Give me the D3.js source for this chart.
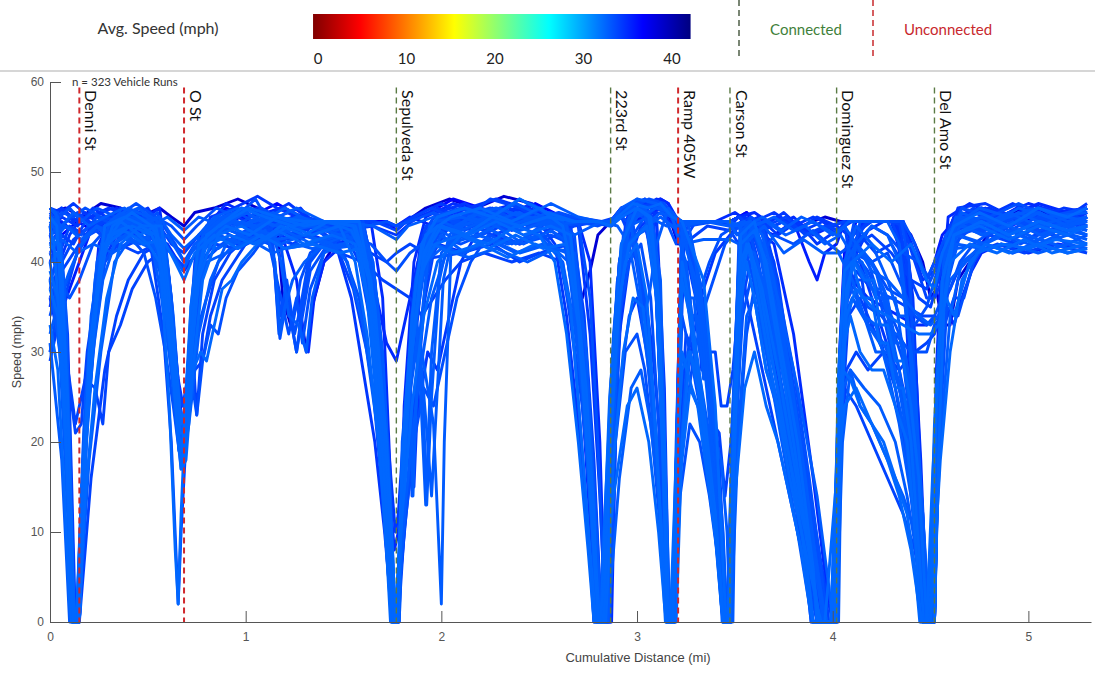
<!DOCTYPE html>
<html>
<head>
<meta charset="utf-8">
<script src="https://cdn.jsdelivr.net/npm/d3@7"></script>
<style>
  body { margin: 0; background: #fff; }
  svg { display: block; }
</style>
</head>
<body>
<svg id="chart" width="1095" height="676"></svg>
<script>
// ---------------------------------------------------------------------------
// Corridor data
// ---------------------------------------------------------------------------
const intersectionNames = ["Denni St", "O St", "Sepulveda St", "223rd St", "Ramp 405W", "Carson St", "Dominguez St", "Del Amo St"];
const intersectionMiles = [0.15, 0.685, 1.77, 2.865, 3.21, 3.475, 4.02, 4.52];
const intersectionConnected = [false, false, true, true, false, true, true, true];

const xTickValues = [0, 1, 2, 3, 4, 5];
const yTickValues = [0, 10, 20, 30, 40, 50, 60];
const colorTickValues = [0, 10, 20, 30, 40];
const vehicleRunCount = 323;

// Average speed of each run (mph), used for its colour
const runAvgSpeed = [33.4, 34.4, 32.9, 33.9, 33.9, 32.4, 33.4, 32.9, 33.9, 32.9, 34.4, 32.9, 33.4, 34.9, 32.4, 38.5,
  32.9, 33.9, 32.9, 35.5, 32.4, 33.4, 32.9, 32.9, 34.4, 32.9, 33.4, 34.4, 32.4, 36.5, 32.9, 33.9, 32.4, 35,
  32.9, 32.9, 34.9, 32.9, 33.9, 33.4, 34.4, 32.4, 33.4, 33.9, 32.9, 33.4, 34, 32.4, 34.4, 33.9, 33.4, 33.9];

// Speed profiles: flat pairs of [distance (hundredths of a mile), speed (mph)]
const runProfiles = [
  [0,44, 4,45.5, 8,30, 11.5,4, 12.5,0, 14.5,0, 18,22, 23,37, 28,43, 36,45, 46,44, 55,44.5, 61,33, 65,22, 67,18, 69,21, 72,33, 76,42, 84,45, 96,44, 108,46, 120,44.5, 133,44.5, 148,43, 160,44.5, 166,38, 171,22, 174.5,4, 175.5,0, 177.5,0, 181,18, 186,34, 192,42, 200,45, 215,44, 230,46, 245,44.5, 260,45.5, 275,44.5, 286,44, 292,45, 298,44, 303,37, 308,26, 312,14, 316,4, 317,0, 319,0, 322,18, 326,30, 331,36, 337,40, 343,43, 350,44, 358,43.5, 366,34, 376,20, 386,6, 390,0, 399,0, 403,22, 406,36, 410,41, 420,40, 428,37, 436,36, 442,33, 448,35, 452,38, 458,42, 466,44, 480,45, 495,43.5, 510,45, 522,44, 530,45],
  [0,45, 6,46, 12,44.5, 18,45.5, 26,44, 36,46, 46,45, 54,44, 59,38, 64,27, 66.5,19, 68.5,20, 71,30, 74,40, 80,44, 92,45.5, 104,44, 116,45, 128,46, 134,44.5, 150,43, 165,44.5, 177,44, 185,45, 200,46.5, 215,45, 230,44, 245,46, 262,44.5, 270,44, 276,32, 281,14, 284,0, 286.5,0, 289,22, 293,40, 297,45, 305,46.5, 312,46, 318,44, 324,44.5, 332,36, 338,22, 344,4, 345,0, 347,0, 350,26, 353,44, 362,45, 372,43, 382,44.5, 392,42, 402,43.5, 410,44.5, 420,44.5, 432,44.5, 437,36, 442,16, 445,2, 447,0, 451,0, 453.5,28, 457,42, 462,45, 475,46, 490,44, 505,45.5, 518,44, 530,45.5],
  [0,38, 5,30, 9,12, 11,0, 13.5,0, 17,20, 21,34, 26,41, 34,43, 44,42, 54,43.5, 62,41, 68,39, 74,42, 82,43, 94,42, 106,43.5, 118,42, 130,43, 145,41.5, 160,42, 167,34, 172,16, 175,2, 176,0, 178,0, 180,10, 182,22, 184,28, 185.5,14, 188,30, 193,40, 200,43, 212,41, 225,42.5, 240,41, 255,42, 265,40, 272,30, 277,14, 280,2, 281,0, 283,0, 286,24, 290,38, 296,44, 306,45, 315,44, 322,44, 335,44.5, 347,44, 355,44.5, 362,43, 370,34, 380,22, 388,10, 392,0, 398,0, 401,0, 404,26, 407,38, 412,36, 418,33, 424,31, 430,28, 436,22, 442,12, 446,2, 447,0, 451,0, 454,26, 458,40, 464,43, 478,42, 492,43.5, 506,42, 520,43, 530,42],
  [0,29, 4,33, 10,38, 15,42, 22,44, 32,43, 42,44.5, 52,41, 58,32, 62,20, 65.5,2, 67,10, 70,22, 74,28, 78,29, 82,34, 88,38, 94,40, 100,42, 110,45, 122,43.5, 134,44.5, 150,44.5, 166,44.5, 177,43.5, 182,44.5, 195,46, 210,44.5, 225,47, 240,46, 255,44, 270,44.5, 286.5,44.5, 292,45.5, 300,47, 308,45, 312,32, 315.5,5, 316.5,0, 319,0, 321,20, 323,40, 325,40, 328,34, 331,34, 333,28, 336,28, 339,22, 342,21, 345,14, 348,20, 352,35, 356,43, 362,44.5, 370,40, 378,28, 386,14, 394,2, 396,0, 401,0, 404,30, 407,40, 413,42, 420,43, 430,41, 440,38, 448,37, 452,39, 460,44, 472,46, 488,44.5, 502,46, 516,44, 530,46],
  [0,44, 8,30, 13,22, 18,27, 23,26, 27,22, 30,30, 36,33, 42,37, 50,40, 56,41, 62,34, 66,24, 68,22, 70,24, 73,30, 75,23, 78,32, 84,38, 92,41, 102,43, 114,42, 126,44.5, 140,42, 155,43, 163,40, 170,26, 174,10, 176,0, 178,0, 181,16, 185,30, 191,40, 198,44, 210,45, 224,44, 238,45.5, 252,44.5, 268,45, 282,44.5, 290,45, 300,46.5, 310,46, 318,45, 323,44.5, 330,40, 337,30, 342,18, 345,4, 346,0, 348,0, 351,30, 354,44, 364,43.5, 375,44.5, 388,43, 398,44, 406,44.5, 410,38, 415,38, 418,33, 423,33, 427,29, 433,29, 437,25, 442,25, 446,12, 449,0, 452,0, 455,30, 458,41, 465,44.5, 478,43, 492,45, 506,43.5, 520,45, 530,44],
  [0,42, 6,40, 9,22, 12.5,0, 15,0, 20,30, 28,44, 38,45, 48,44, 57,44, 63,32, 67,22, 69,24, 72,35, 76,42, 86,44, 98,46, 110,45, 124,44, 134,44.5, 148,44.5, 158,44.5, 166,35, 172,20, 175,8, 176.5,0, 178,0, 179,8, 182,25, 187,38, 192,43, 205,45, 220,46, 236,44.5, 250,46, 262,44, 268,38, 274,26, 278,12, 280,0, 281.5,0, 286,25, 292,42, 300,46, 306,45, 310,38, 314,20, 316,2, 317,0, 320,0, 323,20, 327,30, 330,28, 335,20, 340,10, 344,0, 347,0, 350,25, 353,43, 360,44.5, 365,40, 372,31, 380,20, 388,8, 393,0, 400,0, 403,18, 406,34, 410,40, 420,42, 430,40, 440,42, 448,38, 452,37, 456,41, 462,44, 475,45.5, 490,44, 505,46, 520,45, 530,46],
  [0,46, 5,45, 10,46, 16,44.5, 24,46, 34,45, 44,46.5, 54,45, 62,44, 68.5,42.5, 75,44, 85,46, 95,45, 105,47, 113,44, 117.5,31.5, 121,36, 126,30, 129,35, 133,40, 140,42, 150,44, 160,44, 165,40, 170,28, 174,10, 175.5,0, 177,0, 180,12, 184,30, 190,42, 196,45, 210,46, 225,44.5, 240,47, 256,45, 270,44.5, 276,36, 280,20, 283,4, 284.5,0, 286,0, 289,20, 292,40, 297,46, 306,47, 314,46.5, 318,45, 322,42, 326,44, 340,44.5, 347.5,44.5, 352,44, 356,41, 366,32, 376,22, 384,12, 390,2, 392,0, 402,0, 405,28, 408,38, 414,44.5, 425,44.5, 435,44.5, 439,40, 444,18, 448,2, 449,0, 452,0, 455,26, 458,42, 466,46, 480,45, 495,46.5, 510,45, 530,46],
  [0,31, 6,18, 10,0, 14,0, 19,24, 25,38, 30,43, 40,44.5, 50,43, 56,39, 61,30, 65,21, 67,17, 69.5,20, 73,34, 77,41, 86,43, 98,44.5, 112,43, 126,45, 140,43.5, 156,44.5, 163,37, 168,28, 173,12, 176,0, 178,0, 182,22, 187,36, 194,44, 208,42.5, 222,44, 238,42, 254,44.5, 268,43, 282,44.5, 290,44, 296,42, 301,36, 306,28, 311,14, 315,0, 318,0, 321,18, 323.5,44, 326,44.5, 332,38, 338,26, 343,10, 346,0, 348,0, 351,22, 355,42, 365,44, 375,41, 385,42.5, 395,41, 403,41, 410,38, 416,34, 422,33, 428,28, 434,22, 440,14, 446,5, 448,0, 451.5,0, 454,24, 457,40, 463,43, 476,42, 490,43.5, 505,42, 520,43.5, 530,43],
  [0,41, 6,43, 12,42, 18,44.5, 26,43, 36,41.5, 46,42.5, 55,41, 60,34, 64,26, 66,20, 68,19, 70.5,23, 73,32, 77,40, 84,42, 96,41.5, 110,43, 124,42, 136,43.5, 150,42, 164,41, 172,40, 177,41, 184,42, 196,40.5, 210,41, 226,42, 240,40, 256,41.5, 268,42, 273,34, 278,18, 281,4, 282,0, 285,0, 288,20, 292,36, 296,42, 304,44, 309,40, 314,16, 316.5,0, 318.5,0, 321,28, 323,42, 330,44.5, 345,44.5, 352,43, 360,44, 366,40, 374,32, 382,22, 390,12, 396,4, 398,0, 402,0, 404,26, 407,36, 412,39, 420,37, 430,36, 438,35, 446,34, 452,34, 457,33, 462,36, 467,36, 472,40, 480,43, 494,42, 508,43.5, 520,42, 530,43],
  [0,46, 3,45.5, 7.5,33, 11.5,3, 12.5,0, 14.5,0, 18.5,26, 24,40, 30,44, 40,46, 50,45, 58,43, 62,36, 65,26, 66.5,20, 68.5,18, 71,28, 75,38, 80,43, 90,45, 102,44, 114,43, 118,40, 122,34, 127,33, 131,30, 134,36, 140,41, 150,42, 160,44, 167,36, 173,14, 176,0, 178,0, 180,20, 186,35, 190,30, 196,22, 200,2, 201.5,20, 205,42, 214,45, 228,46, 242,45, 256,46.5, 270,45, 280,44.5, 286.5,44.5, 292,46, 300,47, 310,46.5, 318,45, 323,44.5, 332,34, 340,16, 344,2, 345.5,0, 347,0, 350,24, 353,44, 358,44.5, 364,42, 372,34, 380,24, 388,12, 395,2, 397,0, 403,0, 405,30, 408,40, 415,40, 422,36, 428,36, 432,31, 436,31, 440,26, 444,14, 448,0, 451,0, 453,20, 456,36, 462,44, 475,46, 490,45, 505,46, 520,44.5, 530,45],
  [0,35, 5,40, 10,43, 16,45, 24,44, 34,45.5, 44,44, 54,45, 58,41, 63,30, 66,22, 68,21, 71,30, 75,39, 82,44, 94,45, 106,46, 118,44.5, 130,45, 140,44.5, 155,44, 165,35, 172,18, 175,3, 176.5,0, 178,0, 179,8, 182,25, 187,38, 192,43, 204,44, 218,46, 232,45, 246,46.5, 258,45, 266,41, 272,28, 278,10, 281,0, 283,0, 287,28, 291,40, 296,45, 304,46, 310,44, 313.5,22, 315.5,0, 318,0, 321,16, 325,26, 329,32, 334,37, 340,41, 347.5,43, 355,45, 365,44, 375,45.5, 385,43.5, 395,44.5, 402,43, 406,44.5, 415,44.5, 425,44.5, 433,44.5, 438,38, 443,20, 446,4, 448,0, 452,0, 455,32, 458,43, 465,46, 478,45, 492,46.5, 506,45, 518,46, 530,45.5],
  [0,43, 5,44, 8,35, 10,20, 12,2, 13,0, 15,0, 19,26, 25,39, 32,44, 42,45, 52,44, 60,45, 68.5,43.5, 76,45, 88,44, 100,45.5, 114,44, 128,45, 134,44.5, 150,44.5, 165,44, 177,42.5, 183,44, 196,45, 210,43.5, 226,45, 240,44, 254,45.5, 262,44.5, 268,40, 274,26, 279,8, 281,0, 284,0, 288,26, 292,41, 298,45, 305,45.5, 309,42, 313,28, 316,6, 317,0, 319.5,0, 321.5,28, 323.5,44.5, 338,44.5, 347,44.5, 351,43, 356,44, 362,43, 372,36, 382,26, 392,14, 398,4, 400,0, 402,0, 404,22, 407,36, 412,42, 420,44, 428,43, 434,40, 440,30, 446,12, 449,0, 452,0, 454.5,30, 458,43, 466,45, 480,44, 495,45.5, 510,44, 530,44.5],
  [0,44, 6,45.5, 12,45, 18,46, 26,45, 36,44.5, 46,46, 55,44, 60,36, 64,25, 66,19, 68,18, 70.5,22, 73,26, 75,23, 78,29, 82,33, 86,32, 90,36, 96,39, 104,41, 114,44, 126,45, 140,44.5, 152,44, 162,42, 168,30, 173,15, 176,2, 177,0, 178.5,0, 180,12, 183,24, 185,14, 188,28, 192,38, 198,43, 210,45, 225,46, 240,44, 255,45.5, 270,44.5, 280,44, 286.5,44.5, 292,45, 300,46, 308,44, 312,30, 315,8, 316,0, 318,0, 320,20, 322,36, 324,44, 330,40, 336,32, 340,20, 344,6, 345,0, 347.5,0, 350,30, 353,44, 362,44.5, 368,40, 376,30, 384,18, 392,6, 395,0, 400,0, 403,24, 406,35, 412,38, 418,35, 425,34, 432,32, 440,30, 448,30, 452,33, 456,34, 460,35, 464,34, 468,37, 472,40, 478,42, 490,44, 505,42.5, 518,44, 530,43],
  [0,40, 4,42, 8,26, 11,6, 12,0, 14,0, 17,18, 22,33, 27,41, 34,44, 44,43, 54,44.5, 59,36, 63,28, 66,21, 68,20, 70,23, 73,33, 77,41, 86,43, 98,42, 110,44, 122,42.5, 134,43, 146,42, 158,43, 166,33, 172,18, 176,8, 178,10, 182,22, 186,32, 191,40, 198,42, 212,41, 226,43, 240,42, 256,43.5, 266,42, 270,36, 275,22, 279,6, 280.5,0, 283,0, 287,22, 291,38, 296,44, 304,46.5, 312,47, 316,46.5, 320,45, 322,43, 324,44.5, 338,44.5, 347.5,44.5, 352,45, 360,45.5, 370,44, 380,45, 390,43, 400,44, 406,44.5, 420,44.5, 432,44.5, 436,40, 441,24, 445,6, 446,0, 450,0, 453,28, 456,42, 462,45, 476,46, 490,45, 505,46.5, 520,45.5, 530,46],
  [0,37, 4,34, 8,20, 11.5,2, 12.5,0, 15,0, 18.5,20, 23,34, 28,42, 36,44.5, 46,43, 54,44, 58,40, 62,30, 65.5,21, 67.5,19, 70,26, 74,37, 80,42, 90,44, 102,43, 116,45, 130,44, 142,44.5, 154,43.5, 162,40, 168,27, 173,10, 175,0, 177.5,0, 181,20, 186,33, 192,41, 200,44, 214,43, 228,44.5, 242,43, 256,44, 266,43, 271,32, 276,16, 280,3, 281,0, 284,0, 288,18, 293,30, 298,36, 303,35, 308,26, 312,12, 316,0, 318.5,0, 320.5,18, 323,30, 328,26, 334,22, 340,12, 344,0, 347,0, 349.5,22, 352,38, 356,42, 362,38, 370,28, 378,18, 386,10, 392,2, 394,0, 400,0, 402,15, 405,30, 409,34, 414,30, 420,28, 426,28, 432,24, 438,20, 442,10, 445,0, 449,0, 452,22, 456,38, 462,43, 475,44, 490,42.5, 505,44, 520,43, 530,44],
  [0,45.5, 8,46, 16,45, 26,46.5, 36,46, 46,45, 56,46, 62,45, 68.5,44, 74,45.5, 84,46, 96,47, 106,46, 116,44, 119,36, 123,33, 127,36, 131,30, 134,35, 140,40, 150,43.5, 160,44.5, 172,44.5, 177,44, 182,44.5, 192,46, 204,47, 218,46, 232,47.3, 246,46.5, 258,45, 264,44, 268,37, 272,36, 276,39, 280,43, 286.5,44.5, 292,46, 300,46.5, 308,46, 314,46.5, 318,44, 321,42, 324,44.5, 340,44.5, 347.5,44.5, 352,45, 356,45.5, 362,44, 372,45, 384,44, 396,45, 404,44.5, 418,44.5, 434,44.5, 440,43, 446,40, 450,36, 453,37, 456,33, 460,33, 464,38, 470,40, 476,42, 486,45, 500,46, 515,45, 530,46],
  [0,45, 3,44, 7,36, 10.5,14, 12,0, 14,0, 17.5,22, 22,35, 27,42, 35,45, 45,46, 55,44.5, 59,42, 63,34, 66,25, 67.5,20, 69.5,23, 72,35, 76,43, 84,45, 96,46, 108,44.5, 120,46, 133,44.5, 146,43.5, 158,44.5, 165,40, 170,30, 174,14, 176.5,0, 178,0, 181,14, 184,26, 188,32, 192,13, 195,30, 200,41, 210,44, 224,45, 238,46.5, 252,45, 262,44, 266,38, 272,26, 277,12, 279.5,0, 281,0, 284,14, 288,32, 292,42, 300,45, 310,46, 318,45.5, 322,44, 330,44.5, 345,44.5, 350,44, 358,44.5, 364,43, 370,38, 378,28, 386,16, 393,4, 395,0, 401,0, 403,20, 406,33, 410,40, 416,41, 422,39, 428,34, 434,28, 440,20, 444,10, 447,0, 451,0, 454,27, 457,41, 463,45, 476,44, 490,45.5, 505,44, 520,45, 530,44.5],
  [0,43, 6,38, 10,26, 13,21, 16,22, 19,30, 23,36, 28,40, 35,42, 45,41, 54,42, 59,36, 63,28, 66,21, 68,20, 70.5,22, 73.5,32, 78,40, 88,42, 100,43.5, 112,42, 126,43, 140,42.5, 155,43, 163,38, 169,26, 173,12, 175.5,0, 178,0, 181,18, 185,32, 190,40, 198,43, 212,44.5, 226,43, 240,44, 254,42.5, 268,44, 280,44.5, 287,44, 294,45.5, 304,45, 310,36, 314,12, 315.5,0, 318,0, 320,16, 322.5,35, 326,40, 330,36, 334,36, 337,30, 340,30, 343,24, 346,24, 349,28, 353,38, 358,43, 365,44, 372,38, 380,26, 388,14, 394,4, 397,0, 401,0, 404,28, 407,39, 414,43, 422,41, 430,42, 438,39, 444,36, 450,35, 454,38, 460,43, 470,45, 484,44, 498,45.5, 512,44, 530,44.5],
  [0,46, 4,45, 8,32, 11,10, 12,0, 14,0, 18,24, 23,38, 28,44, 36,45.5, 46,44.5, 56,45, 62,43, 68.5,41.5, 76,43, 86,45, 98,44, 110,45.5, 124,44, 138,44.5, 150,44, 160,42, 166,32, 171,16, 175,2, 176,0, 177.5,0, 180.5,16, 185,32, 190,42, 198,45, 212,46, 226,44.5, 240,45.5, 254,44, 266,43, 271,34, 277,16, 281,2, 282,0, 285,0, 288,22, 293,42, 297,44, 300,40, 303,34, 306,36, 310,42, 316,46, 320,45, 323,44.5, 330,40, 336,28, 341,12, 344,0, 346.5,0, 349,20, 352.5,43, 358,44.5, 362,42, 370,32, 378,20, 386,8, 390,0, 397,0, 400,0, 403,26, 406,40, 412,44, 420,42, 428,38, 434,34, 438,34, 442,26, 446,12, 449,2, 450.5,0, 452,0, 454,22, 457,38, 462,44, 476,45, 490,44, 506,45.5, 520,44, 530,45],
  [0,30, 5,34, 10,37, 15,40, 20,43, 28,44.5, 38,43, 48,44, 55,42, 60,35, 64,27, 66.5,22, 68.5,22, 71,27, 74,36, 78,42, 86,44, 98,45, 110,43.5, 124,45, 136,44.5, 150,44, 165,44.5, 177,44, 184,45, 196,44, 210,45.5, 224,44.5, 238,46, 252,44.5, 264,44, 269,34, 274,18, 278,4, 279.5,0, 282,0, 285.5,20, 290,36, 295,44, 302,45, 308,45, 312,34, 315,10, 316,0, 319,0, 321,24, 323,44.5, 337,44.5, 347.5,44.5, 352,45, 360,44, 370,43, 380,44.5, 388,40, 392,38, 396,41, 402,42, 406,44.5, 420,44.5, 436,44.5, 442,41, 448,38, 452,40, 456,43, 464,45, 478,44, 494,46, 510,44.5, 530,45.5],
  [0,39, 4,36, 7,28, 10,8, 11.5,0, 13.5,0, 17,18, 21,30, 26,40, 32,43, 42,44, 52,43, 56,41, 61,24, 64,8, 65.5,2, 67,12, 69,22, 73,28, 77,30, 80,29, 84,33, 88,37, 93,38, 98,40, 106,42, 118,44, 130,43, 142,44.5, 156,44, 164,38, 170,24, 174,8, 175.5,0, 177,0, 180,14, 185,30, 191,41, 198,44, 212,43, 226,45, 240,44, 254,45, 268,44.5, 280,44.5, 286.5,44, 290,45, 298,46.5, 306,46, 312,46.5, 318,45, 323,44.5, 334,38, 340,24, 344,6, 345.5,0, 347.5,0, 350,22, 353,42, 360,43.5, 366,40, 374,30, 382,20, 390,6, 392,0, 399,0, 402,0, 404.5,24, 407,37, 411,40, 416,38, 421,38, 424,33, 428,33, 432,29, 436,29, 440,24, 444,16, 447,4, 448,0, 452,0, 454,18, 457,36, 462,43, 476,44.5, 490,43, 506,44.5, 520,43.5, 530,44],
  [0,43, 8,44, 16,43, 24,45, 34,44, 44,45, 54,43, 59,37, 63,29, 66,22, 68,20, 70,23, 73,34, 77,42, 86,44, 98,43, 110,45, 114,42, 117,32, 121,37, 124,33, 128,38, 133,41, 145,43, 158,44, 165,37, 171,20, 175,4, 176,0, 178,0, 181,20, 186,36, 192,43, 202,45, 216,44, 230,45.5, 244,44, 258,45, 268,43, 274,30, 279,12, 282,0, 285,0, 288.5,26, 293,43, 300,45.5, 308,44, 313,22, 315.5,0, 318,0, 321,14, 324,22, 328,28, 333,34, 339,38, 345,42, 352,44, 358,43, 366,36, 374,26, 384,14, 392,2, 394,0, 399,0, 402,0, 404,20, 407,38, 412,42, 420,40, 428,41, 436,37, 442,34, 448,33, 452,34, 456,36, 460,37, 465,40, 472,42, 482,43.5, 496,42, 510,43.5, 520,42, 530,43],
  [0,44.5, 4,43, 8,28, 11,8, 12.5,0, 14,0, 17.5,20, 22,34, 27,41, 35,44.5, 45,45, 55,44, 58,41, 62,31, 65,23, 67,19, 69.5,22, 72,31, 75.5,40, 82,43, 94,44.5, 106,44, 118,45, 130,44, 144,44.5, 158,43, 165,34, 171,18, 174,6, 175.5,0, 177,0, 179.5,10, 183,24, 187,30, 190.5,26, 192.5,13, 195,25, 199,38, 204,43, 214,45, 228,44, 242,45, 256,44, 270,44.5, 286.5,44.5, 292,45, 300,46.5, 307,45, 311,38, 314,18, 316,2, 317,0, 319,0, 321,20, 323,42, 326,36, 329,36, 332,30, 335,30, 338,24, 341,18, 344,10, 346,0, 348,0, 350.5,24, 353.5,42, 360,44, 370,45, 380,43.5, 390,44.5, 400,43, 406,44, 412,42, 420,40, 428,36, 432,36, 436,30, 440,22, 444,12, 447,2, 449,0, 452,0, 455,28, 458,42, 466,45.5, 480,44, 495,46, 510,45, 530,45.5],
  [0,42, 8,44, 16,42.5, 24,44, 32,42, 42,43.5, 52,42, 60,43, 68.5,40, 76,42, 86,41.5, 96,43, 108,42, 120,43.5, 134,42, 148,43, 158,42.5, 164,36, 170,22, 174,6, 175.5,0, 177.5,0, 181,16, 185,30, 191,40, 197,42, 210,41, 224,42.5, 238,41, 252,42, 264,41, 270,32, 275,16, 279,4, 280,0, 283,0, 287,20, 291,36, 296,42, 305,44, 312,45, 318,44, 323,43, 330,38, 336,26, 341,10, 343.5,0, 346,0, 349,22, 352,40, 356,43, 360,39, 368,30, 376,22, 384,14, 390,6, 393,0, 398,0, 401,0, 403,16, 405.5,26, 409,28, 414,24, 420,22, 428,18, 436,14, 442,10, 446,4, 448,0, 451,0, 453.5,24, 457,38, 463,42, 476,41.5, 490,42, 505,41, 520,42, 530,41.5],
  [0,36, 5,31, 8,22, 11,4, 12,0, 14.5,0, 18,20, 22,32, 27,40, 34,43, 44,44, 54,42.5, 58,38, 62,30, 65.5,23, 67.5,21, 70,24, 73,33, 77,41, 85,43, 96,42, 110,44, 124,43, 134,44, 150,43.5, 165,44, 177,43, 185,44.5, 198,46, 212,44.5, 226,46, 240,44, 256,45.5, 270,44.5, 286.5,44.5, 292,45, 298,43, 303,38, 308,30, 312,20, 315,8, 316.5,0, 319,0, 321.5,26, 324,44.5, 340,44.5, 347.5,44, 352,45, 358,44, 364,41, 372,33, 380,24, 388,12, 394,2, 396,0, 401,0, 403,20, 406,34, 410,40, 418,43.5, 426,44.5, 434,44.5, 440,42, 446,38, 452,39, 458,43, 466,45, 480,46, 494,44.5, 508,46, 522,45, 530,45],
  [0,45, 6,44, 12,45.5, 20,44, 28,45, 38,46, 48,44.5, 56,43, 60,36, 64,27, 66.5,20, 68.5,19, 71,25, 74,36, 78,43, 88,45, 100,46, 112,44.5, 126,46, 140,44.5, 154,44.5, 162,41, 168,30, 173,14, 176,2, 177,0, 178.5,0, 181,18, 186,34, 190,28, 193,20, 195,14, 197,22, 201,38, 207,44, 220,45.5, 234,44, 248,45, 262,44, 269,38, 274,24, 279,6, 281,0, 284,0, 287,20, 291,36, 296,44, 304,46, 309,43, 313,24, 315.5,2, 316.5,0, 319,0, 321,22, 323,40, 328,32, 334,22, 339,12, 343,2, 344,0, 346.5,0, 349,18, 352,38, 356,44, 366,44.5, 376,43, 386,44, 396,42, 404,43, 412,40, 420,37, 426,37, 430,32, 434,32, 438,27, 442,20, 446,8, 448,0, 452,0, 454.5,28, 458,41, 465,44, 478,43, 492,44.5, 506,43, 520,44, 530,43.5],
  [0,41, 4,39, 8,24, 11,3, 12,0, 15,0, 19,22, 24,36, 29,42, 38,44, 48,45, 58,44, 64,42, 68.5,40, 74,42, 84,44, 96,45.5, 108,44, 118,42, 122,35, 126,30, 129,34, 133,39, 142,42, 154,43, 162,39, 168,26, 173,9, 175,0, 177,0, 180,12, 184,26, 189,38, 195,43, 206,44, 220,45, 234,43.5, 248,45, 262,44, 276,44.5, 286.5,44.5, 294,46, 304,47, 312,46, 316,44, 320,42, 323,44.5, 328,42, 334,32, 340,16, 343.5,2, 345,0, 347,0, 349.5,24, 352,42, 358,45, 364,44, 372,37, 380,28, 388,16, 394,6, 397,0, 402,0, 404,26, 406.5,40, 411,44.5, 424,44.5, 436,44.5, 442,42, 448,38, 452,40, 458,43, 466,44.5, 480,43, 494,44.5, 508,43, 522,44.5, 530,44],
  [0,46, 6,45.5, 12,46.5, 20,45, 30,46, 40,45, 50,46, 56,44, 61,35, 64.5,26, 67,20, 69,21, 72,31, 76,41, 82,45, 94,46, 106,47.3, 116,46, 126,45, 134,44.5, 148,44, 160,44.5, 166,38, 172,22, 176.5,10, 178,12, 181,22, 184,26, 186,15, 188.5,28, 193,40, 200,45, 214,46, 228,47, 242,46, 256,45, 266,44, 271,36, 276,20, 279.5,6, 281,0, 284,0, 287,24, 291,40, 296,46, 304,47, 310,45, 314,26, 316,4, 317,0, 319.5,0, 321.5,26, 323.5,44.5, 340,44.5, 347.5,44.5, 352,45, 357,44, 362,40, 370,30, 378,18, 386,6, 390,0, 396,0, 400,0, 403,22, 406,38, 410,43, 418,44.5, 428,44.5, 436,44.5, 441,36, 445,16, 447.5,2, 449,0, 452,0, 455,30, 458,42, 464,46, 478,46.5, 492,45, 506,46, 520,45, 530,46.5],
  [0,33, 4,28, 7,16, 10,2, 11,0, 13.5,0, 16.5,16, 20,28, 25,38, 30,43, 40,44, 50,42, 56,40, 61,31, 64,25, 66,19, 68,18, 70,22, 72.5,30, 76,38, 82,42, 92,43, 104,42, 116,43.5, 130,42, 144,43, 156,42, 162,36, 168,22, 172,8, 174.5,0, 177,0, 180,16, 184,28, 189,38, 195,42, 206,41, 220,42, 234,40.5, 248,42, 260,41, 266,35, 271,22, 276,8, 279,0, 282,0, 285.5,18, 290,34, 294,40, 300,42, 305,36, 310,20, 313,6, 314.5,0, 317,0, 320,18, 323,28, 327,30, 331,26, 336,18, 340,10, 343,2, 344.5,0, 347,0, 349,16, 352,34, 356,40, 360,36, 366,28, 372,24, 378,18, 384,10, 388,4, 390,0, 395,0, 399,0, 402,18, 405,28, 409,27, 414,24, 420,22, 426,20, 432,16, 438,12, 442,6, 444.5,0, 448,0, 451,16, 455,32, 460,40, 470,42, 484,41, 498,42.5, 512,41, 530,42],
  [0,44, 6,43, 14,44.5, 22,43.5, 32,45, 42,44, 52,45, 58,43, 62,36, 65,28, 67.5,22, 69.5,22, 72,30, 75.5,39, 80,44, 90,46, 102,45, 116,46.5, 128,45, 134,44.5, 148,44.5, 162,44.5, 172,44.5, 177,43.5, 182,44.5, 194,45.5, 206,47, 220,46, 234,45, 248,46.5, 262,45, 274,44.5, 286.5,44.5, 292,46, 300,45, 306,46.5, 312,47, 316,46.5, 320,44, 324,44.5, 338,44.5, 347.5,44.5, 352,45, 356,45.5, 360,44, 368,38, 376,30, 384,20, 392,8, 395,0, 401,0, 403.5,30, 406,41, 412,44.5, 422,44.5, 430,44.5, 436,40, 440,28, 444,10, 446,0, 450,0, 453,26, 456,41, 462,45, 476,45.5, 490,44, 505,45, 520,44.5, 530,45],
  [0,40, 5,41, 9,24, 12,2, 13,0, 15,0, 18,18, 22,30, 27,38, 33,42, 43,43.5, 53,42, 58,39, 62,31, 65.5,24, 67.5,21, 70,24, 73,34, 77,41, 86,43, 98,42, 110,43.5, 115,40, 117.5,32, 120,35, 124,38, 130,40, 140,42, 152,43, 162,40, 167,30, 172,12, 175,0, 177.5,0, 181,20, 186,34, 192,42, 200,44, 214,42.5, 228,44, 242,42, 256,43.5, 266,42, 270,34, 275,18, 279,2, 280,0, 283,0, 286,16, 290,34, 295,42, 304,44, 312,45.5, 318,45, 322,42, 325,40, 328,34, 331,34, 334,27, 337,27, 340,20, 343,18, 346,10, 347.5,0, 349,0, 351,28, 354,42, 358,41, 366,30, 374,20, 382,10, 388,2, 389,0, 396,0, 402,0, 404,24, 407,40, 412,42, 420,39, 428,38, 436,36, 444,34, 450,33, 454,34, 460,38, 468,40, 476,42, 488,43, 500,42, 515,43.5, 530,42.5],
  [0,38, 5,41, 10,44, 18,43, 28,44.5, 38,43, 48,44, 57,41, 62,33, 65.5,26, 68,24, 70.5,27, 74,36, 78,42, 88,43.5, 100,42, 112,44, 124,43, 136,44, 150,42.5, 160,43, 166,34, 171,20, 174.5,6, 176,0, 178,0, 180.5,14, 184,26, 189,38, 195,43, 206,44.5, 220,43, 234,45, 248,44, 262,45, 268,42, 273,30, 278,12, 280.5,0, 283,0, 286.5,22, 291,40, 296,45, 304,46, 310,40, 313,24, 315,4, 316,0, 318.5,0, 321,24, 323,44.5, 336,44.5, 347.5,44.5, 352,44, 358,45, 366,44, 376,45, 386,43, 396,44, 404,43.5, 408,44.5, 418,44.5, 430,44.5, 435,42, 440,30, 444,14, 446.5,2, 448,0, 451.5,0, 454,24, 457,40, 464,44, 478,45, 494,43.5, 510,45, 530,44],
  [0,45, 3.5,44, 7,30, 10.5,10, 12,0, 14,0, 17,16, 21,30, 26,40, 32,44, 42,45.5, 52,44, 57,42, 61,34, 64.5,26, 66.5,21, 68.5,21, 71,29, 75,38, 80,43, 90,44.5, 102,46, 116,45, 130,44.5, 142,44.5, 155,44, 163,38, 169,24, 173.5,6, 175,0, 177,0, 180,18, 185,34, 190,42, 198,45, 212,46, 226,45, 240,47, 254,45.5, 268,44.5, 280,44.5, 286.5,44, 292,45, 300,46, 307,45, 311,36, 314,14, 315.5,0, 318.5,0, 320.5,18, 323,40, 328,34, 334,24, 340,12, 343.5,2, 345,0, 347,0, 350,20, 353,38, 357,42, 362,36, 370,26, 378,16, 386,8, 392,2, 393,0, 400,0, 403,28, 406,39, 410,40, 415,36, 420,36, 424,31, 428,31, 432,26, 436,26, 440,20, 444,8, 446.5,0, 450,0, 453,24, 456,38, 462,43, 476,44.5, 490,43, 505,44.5, 520,43.5, 530,44],
  [0,43, 6,44.5, 14,43, 22,44, 32,42.5, 42,44, 52,43, 60,42, 68.5,39, 75,41, 85,43, 96,42, 108,43.5, 120,42, 126,38, 130,31, 132,30, 135,36, 140,40, 150,42, 160,41, 166,37, 172,31, 177,29, 182,34, 188,40, 195,43, 208,44, 222,45, 236,43.5, 250,45, 262,44, 268,36, 274,20, 278,4, 279.5,0, 283,0, 286,20, 290,38, 296,44, 304,45, 312,46, 318,45, 322,44, 330,44.5, 345,44.5, 352,44, 358,42, 366,34, 374,26, 382,18, 388,10, 392,2, 393.5,0, 400,0, 403,22, 406,36, 410,38, 418,36, 426,35, 434,34, 442,33, 448,33, 454,34, 458,35, 462,33, 466,36, 471,39, 476,41, 486,42, 500,41, 515,42, 530,41.5],
  [0,44, 4,45, 8,34, 11.5,6, 12.5,0, 15,0, 18.5,24, 24,38, 29,43, 37,44.5, 47,44, 56,45, 60,40, 64,30, 66.5,22, 68.5,20, 71,25, 74,35, 78,42, 88,45, 100,44, 114,45.5, 128,44, 140,44.5, 152,44.5, 161,42, 167,32, 172,14, 175,0, 177,0, 180.5,18, 185,33, 190,41, 197,44.5, 210,45, 224,44, 238,45.5, 252,44.5, 264,44, 270,35, 275,20, 279,5, 281,0, 284,0, 287,22, 291,40, 296,45, 304,45.5, 309,40, 313,20, 315,0, 318,0, 320.5,22, 323,44.5, 336,44.5, 347.5,44.5, 352,44, 356,42, 364,36, 372,28, 380,20, 388,10, 394,2, 395.5,0, 401,0, 403.5,22, 406,34, 410,36, 416,34, 422,30, 428,30, 434,26, 440,18, 445,6, 447,0, 451,0, 453.5,26, 457,40, 463,44, 476,45, 490,44, 505,45.5, 520,44, 530,44.5],
  [0,32, 5,36, 10,39, 16,42, 24,44, 34,43, 44,44.5, 54,43, 59,38, 63,29, 66,22, 68,21, 70.5,25, 74,35, 78,42, 86,44, 98,43, 110,44.5, 122,43.5, 134,44, 148,43, 158,44, 164,36, 170,22, 174,6, 175.5,0, 178,0, 181,20, 186,35, 191,42, 198,44, 212,43, 226,45, 240,43.5, 254,44.5, 264,44, 270,36, 275,22, 279,6, 280.5,0, 283.5,0, 287,24, 291,40, 296,45, 304,46, 309,42, 313,22, 315.5,0, 318,0, 320.5,20, 322.5,38, 326,36, 331,28, 336,18, 341,8, 344,0, 346,0, 349,24, 352,40, 356,44, 364,45, 374,43.5, 384,45, 394,44, 402,43, 408,44.5, 418,44.5, 428,44.5, 434,42, 439,32, 443,16, 446,2, 447.5,0, 451,0, 454,28, 457,40, 463,44.5, 476,43, 490,44, 505,42.5, 520,44, 530,43],
  [0,46, 5,44.5, 9,30, 12,5, 13,0, 15,0, 19,28, 25,42, 34,46, 46,44.5, 56,46, 61,38, 65,26, 67.5,19, 70,22, 73,34, 77,43, 90,46.5, 104,45, 118,46, 130,45, 134,44.5, 150,44, 164,44.5, 170,36, 174,16, 176,0, 178,0, 181,24, 186,40, 192,45, 206,46.5, 222,45.5, 238,46.5, 254,45, 270,44.5, 276,40, 281,20, 283.5,2, 285,0, 287,0, 290,30, 294,44, 302,46, 310,47, 316,46, 320,43, 324,44.5, 340,44.5, 350,45.5, 360,44, 370,42, 380,32, 390,16, 398,2, 400,0, 402,0, 404,30, 407,42, 416,44.5, 428,44.5, 436,44.5, 440,38, 445,18, 448,2, 449.5,0, 452,0, 455,34, 459,45, 470,46.5, 485,45, 500,46.5, 515,45.5, 530,46],
  [0,41.5, 6,42.5, 14,41, 22,42, 32,41, 42,42.5, 52,41.5, 58,38, 63,30, 66,24, 68,22, 71,28, 75,36, 80,40, 90,41, 102,42.5, 114,41, 126,42, 134,41.5, 150,42, 162,41, 167,34, 172,20, 175,6, 176.5,0, 178,0, 181,18, 186,32, 192,40, 200,41.5, 214,40.5, 228,41.5, 244,40, 258,41.5, 268,41, 274,30, 278,14, 281,2, 282,0, 285,0, 288,24, 292,40, 300,43, 308,44, 312,38, 315,12, 316.5,0, 319,0, 321,26, 323.5,42, 334,42.5, 347.5,42.5, 352,42, 360,41, 368,35, 376,26, 384,16, 392,6, 396,0, 401,0, 403.5,20, 406,32, 410,36, 418,33, 426,31, 432,28, 438,24, 443,14, 447,2, 448,0, 451.5,0, 454,22, 457,37, 463,41.5, 478,42, 492,41, 506,42, 520,41, 530,41.5],
  [0,37, 6,40, 12,42.5, 20,44, 30,45, 40,43.5, 50,45, 56,43, 60,37, 64,28, 66.5,21, 68.5,20, 71,26, 74,37, 79,43, 90,45, 104,43.5, 118,45, 130,43.5, 134,44, 148,43, 160,43.5, 166,34, 171,18, 175,2, 176,0, 178,0, 181,22, 186,37, 192,44, 206,45, 222,43.5, 238,45, 254,43.5, 268,44.5, 280,44.5, 286.5,44.5, 292,45, 300,46, 308,44.5, 312,34, 315,8, 316,0, 318.5,0, 320.5,22, 323,44, 330,38, 337,26, 342,12, 345,2, 346,0, 348,0, 350.5,26, 353,42, 358,44, 364,41, 372,34, 380,24, 388,12, 395,2, 397,0, 401,0, 403,22, 406,38, 410,43, 420,44.5, 430,44.5, 436,44, 442,40, 448,36, 452,36, 456,38, 462,42, 472,44, 486,45.5, 500,44, 515,45, 530,44.5],
  [0,45.5, 4,44, 8,31, 11,6, 12,0, 14,0, 17.5,20, 22,34, 27,42, 36,45, 46,44, 55,45.5, 59,40, 63,31, 66,23, 68,21, 70.5,24, 73.5,35, 78,42, 88,44.5, 100,43, 110,44, 114,41, 118,34, 121,38, 125,32, 128,35, 132,40, 140,42.5, 152,43, 164,42, 172,40, 177,39, 184,41, 196,43, 210,42, 226,43.5, 240,42, 256,43, 266,42, 271,33, 276,17, 279,4, 280.5,0, 283,0, 286,18, 290,34, 295,42, 304,45, 312,46.5, 318,45.5, 322,44, 330,44.5, 347.5,44.5, 352,44, 360,43, 368,37, 376,27, 384,16, 390,6, 393,0, 400,0, 403,26, 406,39, 412,42, 420,40, 426,37, 430,34, 436,31, 440,25, 444,14, 447,4, 448.5,0, 452,0, 454.5,26, 458,41, 464,44.5, 478,43.5, 492,45, 506,43.5, 520,45, 530,44],
  [0,43.5, 6,45, 14,44, 22,46, 32,44.5, 42,45.5, 52,44.5, 58,41, 62,32, 65.5,23, 67.5,20, 70,23, 73,32, 77,41, 86,44.5, 98,46, 110,45, 122,46.5, 134,44.5, 148,44.5, 160,44, 166,36, 171,20, 174.5,4, 176,0, 177.5,0, 180.5,20, 185,35, 190,43, 198,45.5, 212,46.5, 226,45, 240,46, 254,45, 266,44, 271,36, 276,20, 280,4, 281.5,0, 284,0, 287.5,24, 292,41, 297,45.5, 305,46.5, 310,41, 313.5,20, 315.5,2, 316.5,0, 319,0, 321,24, 323,44.5, 338,44.5, 347.5,44.5, 352,45, 360,44.5, 370,45.5, 380,44, 390,45, 400,44, 406,44.5, 420,44.5, 430,44.5, 436,42, 441,28, 445,10, 447,0, 451,0, 453.5,24, 457,40, 463,45, 476,46, 490,44.5, 505,46, 520,44.5, 530,45.5],
  [0,42.5, 5,42, 9,25, 12,2, 13,0, 15,0, 19,24, 24,36, 29,42, 38,43.5, 48,42, 58,42.5, 64,40, 68.5,38, 74,41, 84,43, 96,41.5, 108,43, 120,41.5, 134,42, 148,41, 158,41.5, 164,34, 170,18, 174,4, 175.5,0, 177,0, 180,16, 185,31, 190,39, 197,42, 210,43, 224,41.5, 238,43, 252,41.5, 264,42, 270,33, 275,18, 279,4, 280.5,0, 283,0, 286.5,20, 291,36, 296,42, 305,44, 310,36, 313.5,16, 315.5,0, 318,0, 320.5,20, 323,38, 327,34, 332,26, 337,16, 342,6, 344.5,0, 347,0, 349.5,22, 352.5,40, 357,42, 364,37, 372,28, 380,18, 388,8, 393,0, 398,0, 401,0, 404,22, 407,34, 412,37, 420,35, 428,34, 436,33, 444,32, 450,32, 454,33, 458,36, 462,34, 466,37, 470,40, 478,42, 490,41, 505,42, 520,41, 530,41.5],
  [0,30, 4,35, 9,38, 14,41, 20,43, 28,44, 38,45, 48,43.5, 56,42, 61,34, 64.5,26, 67,22, 69,22, 72,28, 75,38, 80,44, 90,45, 102,43.5, 114,45, 126,44, 134,44.5, 148,43.5, 160,44, 166,37, 171,22, 174.5,6, 176,0, 177.5,0, 180.5,18, 185,34, 190,42, 198,44.5, 212,43.5, 226,45, 240,44, 254,45, 266,43.5, 272,34, 277,16, 280,4, 281,0, 284,0, 287,22, 291,38, 296,45, 304,46, 312,46.5, 318,45, 323,44.5, 330,39, 336,28, 341,14, 344,2, 345.5,0, 347.5,0, 350,24, 353,43, 358,44.5, 364,42, 372,35, 380,26, 388,14, 394,4, 396,0, 401,0, 403.5,22, 406,36, 411,41, 418,39, 424,36, 430,33, 436,29, 441,20, 445,8, 447,0, 451,0, 453.5,26, 457,40, 463,44, 476,45, 490,43.5, 505,45, 520,44, 530,45],
  [0,43, 4,44, 8,33, 11,9, 12,0, 14.5,0, 18,22, 23,36, 28,42, 36,44, 46,45, 56,43.5, 60,38, 63.5,29, 66,22, 68,20, 70.5,23, 73.5,33, 78,42, 86,44, 98,43, 110,44.5, 122,43, 134,44.5, 150,44.5, 160,43, 166,35, 171,19, 174.5,4, 176,0, 178,0, 181,20, 186,36, 191,43, 198,44, 212,45, 226,43.5, 240,45, 254,43.5, 268,44.5, 280,44.5, 286.5,44.5, 292,45, 298,42, 304,34, 309,22, 313,10, 316,0, 318.5,0, 320.5,22, 323,44.5, 338,44.5, 347.5,44.5, 352,45, 358,44, 364,40, 372,31, 380,22, 388,10, 393,2, 395,0, 401,0, 403.5,26, 406,38, 410,42, 418,44.5, 428,44.5, 434,44.5, 439,38, 444,18, 447,4, 448.5,0, 451.5,0, 454,28, 457,41, 463,45, 476,44, 490,45.5, 505,44, 520,45.5, 530,44.5],
  [0,40, 3,36, 7,24, 10,10, 12,0, 14.5,0, 20,18, 26,30, 33,40, 42,43, 52,42, 57,36, 62,28, 66,20, 68,18, 71,22, 76,32, 82,38, 90,42, 102,43.5, 116,42.5, 130,43, 144,42, 152,40, 160,33, 167,22, 172,10, 175,0, 177,0, 182,14, 188,26, 195,36, 204,42, 218,43, 234,42, 250,43, 262,40, 268,33, 274,22, 279,10, 282,0, 285,0, 291,16, 297,26, 302,28, 307,22, 312,12, 316,0, 319,0, 322,18, 326,30, 330,30, 336,22, 341,12, 345,2, 346.5,0, 348,0, 352,22, 356,34, 360,36, 366,28, 374,22, 382,16, 390,8, 395,2, 397,0, 402,0, 405,20, 409,28, 416,26, 424,24, 432,20, 438,14, 444,6, 447,0, 451,0, 455,20, 460,34, 466,40, 478,42, 492,41, 506,42.5, 520,41.5, 530,42],
  [0,34, 5,38, 10,36, 15,38, 22,42, 30,44, 40,43, 48,41, 54,36, 59,30, 63,24, 66,19, 68.5,19, 72,26, 76,33, 80,36, 86,40, 94,42, 106,44, 118,43, 130,44.5, 140,43, 150,41, 158,36, 165,26, 170,14, 174,2, 175,0, 177,0, 181,10, 186,20, 191,26, 196,24, 202,30, 208,36, 215,40, 224,43, 236,42, 250,43.5, 260,41, 266,34, 272,24, 277,12, 280,2, 281,0, 284,0, 289,20, 294,30, 300,32, 304,28, 308,20, 312,10, 315,2, 316,0, 319,0, 322,14, 327,22, 332,20, 337,14, 342,6, 345,0, 347,0, 351,18, 356,32, 362,40, 370,43, 380,42, 390,43.5, 398,42, 404,41, 410,42, 418,40, 424,36, 430,30, 436,24, 441,16, 445,6, 447,0, 451,0, 455,22, 459,38, 465,43, 478,44, 492,42.5, 506,44, 520,43, 530,44],
  [0,45, 5,43, 9,32, 11.5,12, 13,0, 15,0, 21,16, 28,28, 34,34, 40,38, 48,41, 56,42, 62,41, 68.5,39.5, 76,41, 86,43, 96,42, 108,43, 120,41.5, 134,42, 148,41, 160,40, 170,38, 177,37, 184,36, 190,34, 196,36, 202,38, 210,40, 222,41, 236,40, 250,41, 262,40, 268,30, 273,16, 277,4, 278,0, 281,0, 286,14, 291,26, 296,34, 300,36, 305,30, 310,18, 314,6, 316,0, 319,0, 321.5,24, 324,42, 336,44, 347.5,43.5, 352,42, 356,36, 362,30, 368,24, 374,18, 380,12, 386,6, 389,0, 396,0, 402,0, 404,18, 407,28, 412,30, 418,28, 426,30, 434,28, 442,30, 448,31, 452,32, 458,36, 464,39, 472,41, 484,42, 498,41, 512,42, 530,41],
  [0,44, 2,42, 6,30, 9,16, 11,4, 12,0, 14,0, 18,14, 23,26, 29,36, 36,42, 46,44, 54,43, 58,38, 62,30, 65,22, 67,17, 69.5,18, 73,28, 78,38, 86,43, 98,44, 110,42.5, 122,44, 134,43, 148,44, 156,40, 162,32, 168,20, 172,8, 174,0, 176,0, 180,12, 185,24, 191,34, 198,40, 210,43, 224,42, 238,44, 250,43, 258,40, 264,32, 270,20, 275,8, 278,0, 281,0, 288,14, 295,24, 300,26, 306,20, 311,10, 314,2, 315,0, 318,0, 322,16, 327,26, 331,24, 336,16, 341,8, 344,0, 346,0, 350,14, 355,26, 360,30, 366,24, 372,20, 378,14, 384,8, 388,2, 390,0, 396,0, 402,16, 406,24, 412,26, 420,22, 428,18, 434,14, 440,8, 444,2, 446,0, 450,0, 455,18, 460,30, 466,38, 474,41, 486,42, 500,41.5, 514,42.5, 530,42],
  [0,45, 6,46, 14,44.5, 22,45, 32,46, 42,44.5, 52,45, 57,42, 62,34, 65.5,27, 68,24, 71,28, 75,37, 80,43, 90,45, 102,46, 114,44.5, 126,45, 134,44, 146,42, 154,36, 160,28, 166,20, 171,10, 175,0, 177,0, 182,12, 187,22, 193,30, 198,28, 204,34, 210,40, 220,44, 234,46, 248,45, 258,42, 264,34, 270,22, 275,10, 278,0, 281,0, 286,18, 291,32, 296,40, 302,44, 310,45.5, 318,45, 323,44.5, 328,40, 333,32, 338,22, 342,12, 345,2, 346,0, 348,0, 351.5,26, 355,40, 362,44, 372,45, 382,43.5, 392,45, 402,44, 408,43, 414,40, 420,36, 426,32, 432,28, 438,22, 443,12, 446,4, 447.5,0, 451,0, 454,24, 458,40, 465,45, 478,46, 492,44.5, 506,46, 520,45, 530,46],
  [0,42, 6,44, 14,45.5, 22,44, 32,45, 42,43.5, 52,44.5, 58,40, 62,33, 65.5,25, 67.5,21, 70,24, 73.5,34, 78,42, 88,44, 100,45.5, 112,44, 126,45, 134,44.5, 150,43.5, 158,40, 164,33, 169,22, 173,8, 175.5,0, 177.5,0, 180.5,14, 185,28, 190,38, 198,43, 212,45, 226,44, 240,45.5, 254,44, 268,44.5, 280,44.5, 286.5,44, 292,45, 298,44, 302,38, 306,30, 310,20, 314,8, 316,0, 319,0, 322,20, 325,32, 329,30, 334,22, 339,12, 343,4, 344.5,0, 347,0, 350,22, 354,36, 358,40, 362,38, 368,28, 376,20, 384,12, 390,4, 392,0, 398,0, 402,0, 404.5,22, 408,34, 414,36, 420,33, 426,30, 432,26, 438,18, 443,8, 446,0, 450,0, 453.5,22, 457,38, 463,43.5, 476,44.5, 490,43, 505,44.5, 520,43.5, 530,44],
  [0,38, 4,40, 8,27, 11,8, 12,0, 14,0, 18,20, 23,32, 28,40, 36,43, 46,42, 55,43, 59,37, 63,29, 66,21, 68,19, 70.5,22, 74,32, 78,40, 88,42, 100,43, 112,42, 118,36, 122,32, 126,36, 129,31, 133,37, 140,41, 150,43, 162,44, 172,44.5, 177,44, 184,44.5, 196,45.5, 210,44, 226,45.5, 240,44, 254,45, 262,43, 268,36, 274,24, 279,8, 281,0, 283.5,0, 287,20, 291,34, 296,40, 302,42, 307,36, 311,22, 314,6, 315,0, 318,0, 320.5,20, 323,34, 327,30, 332,24, 337,16, 342,6, 344.5,0, 347,0, 350,20, 354,34, 358,38, 364,32, 372,24, 380,16, 388,6, 392,0, 398,0, 401,0, 403.5,24, 407,38, 412,42, 420,44, 428,43, 436,41, 444,40, 450,38, 454,40, 460,43, 470,45, 484,44, 498,45.5, 512,44, 530,45],
  [0,36, 6,39, 12,41, 18,43, 26,44.5, 36,44, 46,45.5, 56,44, 62,42, 68.5,41, 76,43, 86,44.5, 98,44, 110,45, 122,44, 134,44.5, 146,42, 155,37, 162,30, 168,22, 172,12, 175,2, 176,0, 178,0, 181,10, 185,22, 190,34, 196,41, 204,44, 218,45, 232,44, 246,45.5, 260,44, 266,40, 272,30, 277,16, 280,4, 281,0, 284,0, 288,24, 292,38, 298,45, 306,46.5, 314,46, 320,44, 324,44.5, 340,44.5, 347.5,44.5, 352,44, 358,42, 364,38, 372,30, 380,22, 388,12, 394,4, 397,0, 401,0, 403,18, 406,26, 412,24, 420,20, 428,16, 436,12, 442,8, 446,2, 448,0, 451,0, 454,24, 458,40, 464,44, 478,43, 492,44.5, 506,43, 520,44.5, 530,43.5]
];

// ---------------------------------------------------------------------------
// Layout and scales
// ---------------------------------------------------------------------------
const svg = d3.select("#chart");
const x = d3.scaleLinear().domain([0, 5.32]).range([50, 1091]);
const y = d3.scaleLinear().domain([0, 60]).range([622, 82]);

// Reversed "jet" colour map: slow = dark red, fast = navy
const jetSpeeds = [-0.56, 4.8, 15.4, 26.1, 36.7, 42.1];
const jetColors = ["#800000", "#ff0000", "#ffff00", "#00ffff", "#0000ff", "#000080"];
const speedColor = d3.scaleLinear().domain(jetSpeeds).range(jetColors).clamp(true);

const uiFont = "Lato, 'Open Sans', sans-serif";
const axisFont = "'Liberation Sans', Arial, sans-serif";

// ---------------------------------------------------------------------------
// Legend strip
// ---------------------------------------------------------------------------
const legend = svg.append("g");
legend.append("line")
  .attr("x1", 0).attr("x2", 1095).attr("y1", 71).attr("y2", 71)
  .attr("stroke", "#d6d6d6").attr("stroke-width", 2);

legend.append("text")
  .attr("x", 158).attr("y", 34)
  .attr("text-anchor", "middle")
  .attr("font-family", uiFont).attr("font-size", 16)
  .attr("fill", "#333")
  .text("Avg. Speed (mph)");

const cb = d3.scaleLinear().domain([0, 40]).range([318, 672]);
const grad = svg.append("defs").append("linearGradient")
  .attr("id", "jetGrad").attr("x1", "0%").attr("x2", "100%").attr("y1", "0%").attr("y2", "0%");
jetSpeeds.forEach((s, i) => {
  grad.append("stop")
    .attr("offset", ((s - jetSpeeds[0]) / (jetSpeeds[jetSpeeds.length - 1] - jetSpeeds[0]) * 100) + "%")
    .attr("stop-color", jetColors[i]);
});
legend.append("rect")
  .attr("x", cb(jetSpeeds[0])).attr("y", 14)
  .attr("width", cb(jetSpeeds[jetSpeeds.length - 1]) - cb(jetSpeeds[0])).attr("height", 25)
  .attr("fill", "url(#jetGrad)");
legend.selectAll("text.cbtick").data(colorTickValues).enter().append("text")
  .attr("class", "cbtick")
  .attr("x", d => cb(d)).attr("y", 64)
  .attr("text-anchor", "middle")
  .attr("font-family", uiFont).attr("font-size", 15)
  .attr("fill", "#222")
  .text(d => d);

legend.append("line")
  .attr("x1", 739).attr("x2", 739).attr("y1", 0).attr("y2", 60)
  .attr("stroke", "#4d5e45").attr("stroke-width", 1.5).attr("stroke-dasharray", "6,4");
legend.append("text")
  .attr("x", 806).attr("y", 35).attr("text-anchor", "middle")
  .attr("font-family", uiFont).attr("font-size", 15)
  .attr("fill", "#3f7f3a").text("Connected");
legend.append("line")
  .attr("x1", 873).attr("x2", 873).attr("y1", 0).attr("y2", 58)
  .attr("stroke", "#c8282d").attr("stroke-width", 1.5).attr("stroke-dasharray", "6,4");
legend.append("text")
  .attr("x", 948).attr("y", 35).attr("text-anchor", "middle")
  .attr("font-family", uiFont).attr("font-size", 15)
  .attr("fill", "#c8282d").text("Unconnected");

// ---------------------------------------------------------------------------
// Speed profiles (faster runs drawn first so the bulk colour sits on top)
// ---------------------------------------------------------------------------
const runs = runProfiles.map((flat, i) => {
  const pts = [];
  for (let k = 0; k < flat.length; k += 2) pts.push([flat[k] / 100, flat[k + 1]]);
  return { pts, avg: runAvgSpeed[i] };
}).sort((a, b) => b.avg - a.avg);

const line = d3.line().x(d => x(d[0])).y(d => y(d[1]));
svg.append("g")
  .attr("fill", "none")
  .attr("stroke-width", 2.9)
  .attr("stroke-linejoin", "round")
  .selectAll("path").data(runs).enter().append("path")
  .attr("d", d => line(d.pts))
  .attr("stroke", d => speedColor(d.avg));

// ---------------------------------------------------------------------------
// Intersection markers
// ---------------------------------------------------------------------------
const marks = svg.append("g");
intersectionMiles.forEach((m, i) => {
  const connected = intersectionConnected[i];
  marks.append("line")
    .attr("x1", x(m)).attr("x2", x(m))
    .attr("y1", y(59.4)).attr("y2", y(0))
    .attr("stroke", connected ? "#5a7a44" : "#d0282c")
    .attr("stroke-width", connected ? 1.4 : 2)
    .attr("stroke-dasharray", "6,4");
  marks.append("text")
    .attr("transform", `translate(${x(m) + 5},${y(59.1)}) rotate(90)`)
    .attr("font-family", uiFont).attr("font-size", 16)
    .attr("fill", "#111")
    .attr("dy", "-0.05em")
    .text(intersectionNames[i]);
});

// ---------------------------------------------------------------------------
// Axes
// ---------------------------------------------------------------------------
const yAxis = svg.append("g").attr("transform", `translate(${x(0)},0)`)
  .call(d3.axisLeft(y).tickValues(yTickValues).tickFormat(d3.format("d"))
    .tickSizeInner(-11).tickSizeOuter(0).tickPadding(6));
const xAxis = svg.append("g").attr("transform", `translate(0,${y(0)})`)
  .call(d3.axisBottom(x).tickValues(xTickValues).tickFormat(d3.format("d"))
    .tickSizeInner(-11).tickSizeOuter(0).tickPadding(10));
[yAxis, xAxis].forEach(g => {
  g.select(".domain").attr("stroke", "#555");
  g.selectAll(".tick line").attr("stroke", "#555");
  g.selectAll(".tick text")
    .attr("font-family", axisFont)
    .attr("font-size", 12).attr("fill", "#555");
});

svg.append("text")
  .attr("transform", `translate(21,${(y(0) + y(60)) / 2}) rotate(-90)`)
  .attr("text-anchor", "middle")
  .attr("font-family", axisFont).attr("font-size", 12.5)
  .attr("fill", "#444")
  .text("Speed (mph)");

svg.append("text")
  .attr("x", 638).attr("y", 662)
  .attr("text-anchor", "middle")
  .attr("font-family", axisFont).attr("font-size", 13)
  .attr("fill", "#444")
  .text("Cumulative Distance (mi)");

svg.append("text")
  .attr("x", 72).attr("y", 86)
  .attr("font-family", uiFont).attr("font-size", 11.5)
  .attr("fill", "#333")
  .text(`n = ${vehicleRunCount} Vehicle Runs`);
</script>
</body>
</html>
